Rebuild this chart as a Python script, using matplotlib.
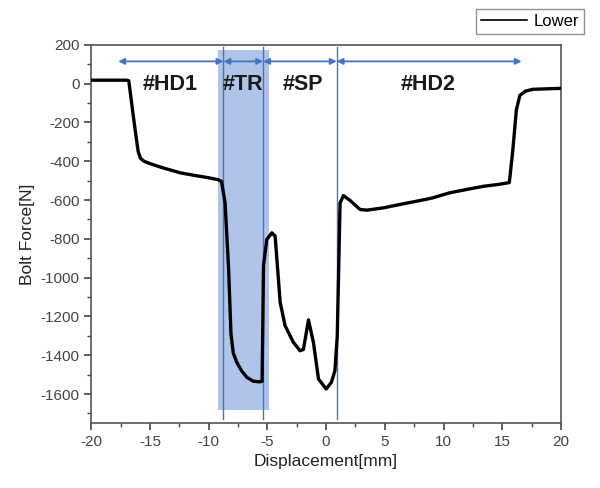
import matplotlib
matplotlib.use("Agg")
import matplotlib.pyplot as plt
from matplotlib.ticker import MultipleLocator

plt.rcParams['font.family'] = ['Liberation Sans', 'DejaVu Sans']
plt.rcParams['axes.unicode_minus'] = False

# displacement [mm] / bolt force [N]
disp = [-20.0, -18.0, -17.0, -16.8, -16.6, -16.3, -16.0, -15.8, -15.5, -15.0,
        -14.0, -12.4, -11.0, -10.0, -9.2, -8.9, -8.6, -8.3, -8.1, -7.9,
        -7.6, -7.2, -6.75, -6.2, -5.7, -5.45, -5.33, -5.05, -4.62, -4.34,
        -3.91, -3.49, -2.78, -2.21, -1.93, -1.5, -1.08, -0.65, 0.0, 0.45,
        0.75, 0.95, 1.19, 1.47, 2.0, 2.9, 3.5, 4.9, 6.5, 7.7,
        9.0, 10.5, 12.0, 13.4, 14.6, 15.6, 15.9, 16.2, 16.5, 17.0,
        17.6, 20.0]
force = [18, 18, 18, 15, -80, -220, -350, -385, -400, -412,
         -432, -460, -475, -485, -495, -505, -615, -957, -1290, -1390,
         -1437, -1480, -1514, -1534, -1537, -1535, -940, -803, -769, -786,
         -1128, -1248, -1334, -1377, -1370, -1218, -1334, -1522, -1574, -1540,
         -1480, -1300, -615, -577, -600, -649, -652, -640, -620, -606,
         -590, -563, -545, -529, -520, -510, -341, -135, -60, -38,
         -29, -24]

# region boundaries and labels
bounds = [-17.7, -8.74, -5.36, 0.9, 16.65]
region_labels = ['#HD1', '#TR', '#SP', '#HD2']
label_x = [-13.3, -7.1, -2.0, 8.7]
shade_span = (-9.2, -4.9)

fig = plt.figure(figsize=(6.0, 4.88), dpi=100)
ax = fig.add_axes([0.152, 0.133, 0.783, 0.775])

blue = '#4472c4'
ax.fill_between(shade_span, -1680, 172, color='#b0c4e9', lw=0, zorder=1)
for xv in bounds[1:4]:
    ax.plot([xv, xv], [-1730, 190], color=blue, lw=1.0, zorder=2)

for a, b in zip(bounds[:-1], bounds[1:]):
    ax.annotate('', xy=(b, 115), xytext=(a, 115),
                arrowprops=dict(arrowstyle='<|-|>', color=blue, lw=1.3,
                                mutation_scale=9, shrinkA=0, shrinkB=0),
                zorder=3)

for lab, xv in zip(region_labels, label_x):
    ax.text(xv, -5, lab, ha='center', va='center', fontsize=15.5,
            fontweight='bold', color='#1a1a1a', zorder=4)

line, = ax.plot(disp, force, color='black', lw=2.4, zorder=5, label='Lower',
                solid_joinstyle='round')

ax.set_xlim(-20, 20)
ax.set_ylim(-1750, 200)
ax.xaxis.set_major_locator(MultipleLocator(5))
ax.xaxis.set_minor_locator(MultipleLocator(2.5))
ax.yaxis.set_major_locator(MultipleLocator(200))
ax.yaxis.set_minor_locator(MultipleLocator(100))
ax.tick_params(which='both', direction='out', colors='#444444', labelsize=11,
               top=False, right=False)
ax.tick_params(which='major', length=5, width=1.2)
ax.tick_params(which='minor', length=3, width=1.0)
for s in ax.spines.values():
    s.set_color('#555555')
    s.set_linewidth(1.2)

ax.set_xlabel('Displacement[mm]', fontsize=12.5, color='#222222')
ax.set_ylabel('Bolt Force[N]', fontsize=12.5, color='#222222')

leg = fig.legend(handles=[line], loc='upper right', bbox_to_anchor=(0.988, 0.998),
                 fontsize=12, fancybox=False, edgecolor='#777777',
                 handlelength=2.8, borderpad=0.3, handletextpad=0.4)
leg.get_lines()[0].set_linewidth(1.2)

fig.savefig('out.png', dpi=100)
